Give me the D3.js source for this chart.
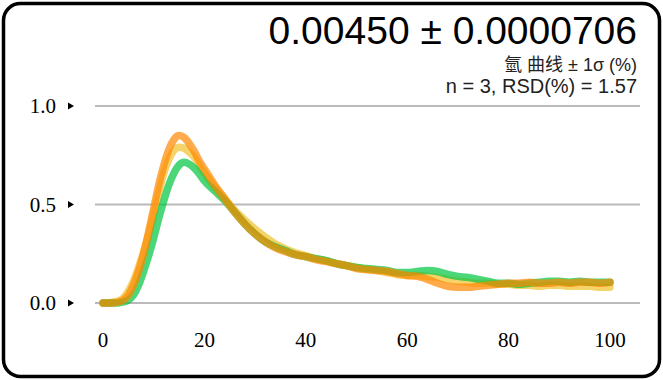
<!DOCTYPE html>
<html>
<head>
<meta charset="utf-8">
<script src="https://cdn.jsdelivr.net/npm/d3@7"></script>
<style>
  body { margin: 0; background: #fff; }
  svg { display: block; }
</style>
</head>
<body>
<div id="chart"></div>
<script>
// time points (shared by the three runs)
var xs = [0,1,2,3,4,5,6,7,8,9,10,11,12,13,14,15,16,17,18,19,20,22,24,26,28,30,32,34,36,38,40,42,44,46,48,50,52,54,56,58,60,62,64,66,68,70,72,74,76,78,80,82,84,86,88,90,92,94,96,98,100];

var yellowRun = [0.00,0.00,0.005,0.01,0.025,0.06,0.11,0.18,0.26,0.35,0.45,0.56,0.66,0.73,0.775,0.79,0.785,0.765,0.74,0.70,0.66,0.59,0.53,0.47,0.42,0.375,0.335,0.30,0.275,0.255,0.24,0.225,0.215,0.20,0.19,0.18,0.17,0.165,0.155,0.145,0.14,0.14,0.135,0.13,0.12,0.11,0.105,0.10,0.10,0.095,0.095,0.09,0.09,0.085,0.09,0.09,0.085,0.085,0.085,0.08,0.08];

var greenRun = [0.00,0.00,0.00,0.00,0.005,0.015,0.04,0.09,0.16,0.24,0.33,0.43,0.52,0.60,0.66,0.70,0.715,0.705,0.685,0.655,0.62,0.57,0.52,0.46,0.40,0.35,0.31,0.285,0.265,0.245,0.235,0.225,0.215,0.20,0.19,0.18,0.175,0.17,0.165,0.155,0.155,0.16,0.165,0.16,0.145,0.135,0.13,0.12,0.11,0.10,0.10,0.095,0.10,0.105,0.11,0.11,0.105,0.11,0.105,0.105,0.105];

var orangeRun = [0.00,0.00,0.00,0.005,0.015,0.04,0.09,0.16,0.25,0.36,0.48,0.60,0.70,0.78,0.83,0.85,0.84,0.81,0.77,0.72,0.68,0.60,0.53,0.46,0.40,0.35,0.31,0.28,0.26,0.245,0.235,0.22,0.21,0.20,0.19,0.175,0.17,0.165,0.16,0.15,0.14,0.135,0.12,0.10,0.085,0.08,0.08,0.085,0.09,0.095,0.10,0.10,0.105,0.10,0.10,0.105,0.10,0.105,0.105,0.10,0.105];

var xTicks = [0,20,40,60,80,100];
var yTicks = [0,0.5,1.0];

var titleText = "0.00450 ± 0.0000706";
var subText1 = "氫 曲线 ± 1σ (%)";
var subText2 = "n = 3, RSD(%) = 1.57";

var svgWidth = 663;
var svgHeight = 380;

var svg = d3.select("#chart")
  .append("svg")
  .attr("width", svgWidth)
  .attr("height", svgHeight);

// card border
svg.append("rect")
  .attr("x", 3.5)
  .attr("y", 3.5)
  .attr("width", 656)
  .attr("height", 373)
  .attr("rx", 17)
  .attr("fill", "#fff")
  .attr("stroke", "#000")
  .attr("stroke-width", 3.5);

var xScale = d3.scaleLinear().domain([0, 100]).range([103, 610]);
var yScale = d3.scaleLinear().domain([0, 1]).range([303, 106]);

// grid lines
svg.append("g").selectAll("line")
  .data(yTicks)
  .enter()
  .append("line")
  .attr("x1", 95)
  .attr("x2", 640)
  .attr("y1", d => yScale(d))
  .attr("y2", d => yScale(d))
  .attr("stroke", "#bababa")
  .attr("stroke-width", 2);

// little arrow markers next to the y labels
svg.append("g").selectAll("path")
  .data(yTicks)
  .enter()
  .append("path")
  .attr("d", d => {
    var y = yScale(d);
    return `M68,${y - 3.5}L74,${y}L68,${y + 3.5}Z`;
  })
  .attr("fill", "#000");

// tick labels, placed with the scales
var fmtY = d3.format(".1f");

svg.append("g").selectAll("text")
  .data(yTicks)
  .enter()
  .append("text")
  .attr("x", 56)
  .attr("y", d => yScale(d) + 7)
  .attr("text-anchor", "end")
  .attr("font-family", "Liberation Serif")
  .attr("font-size", "21px")
  .attr("fill", "#000")
  .text(d => fmtY(d));

svg.append("g").selectAll("text")
  .data(xTicks)
  .enter()
  .append("text")
  .attr("x", d => xScale(d))
  .attr("y", 347)
  .attr("text-anchor", "middle")
  .attr("font-family", "Liberation Serif")
  .attr("font-size", "21px")
  .attr("fill", "#000")
  .text(d => d);

// the three runs
var line = d3.line()
  .x((d, i) => xScale(xs[i]))
  .y(d => yScale(d))
  .curve(d3.curveMonotoneX);

var runs = [
  { values: yellowRun, color: "rgb(241,192,44)" },
  { values: greenRun, color: "rgb(0,196,65)" },
  { values: orangeRun, color: "rgb(255,136,0)" }
];

runs.forEach(function(r) {
  svg.append("path")
    .attr("d", line(r.values))
    .attr("fill", "none")
    .attr("stroke", r.color)
    .attr("stroke-opacity", 0.7)
    .attr("stroke-width", 7.5)
    .attr("stroke-linecap", "round")
    .attr("stroke-linejoin", "round");
});

// header texts
svg.append("text")
  .attr("x", 637)
  .attr("y", 44)
  .attr("text-anchor", "end")
  .attr("font-family", "Liberation Sans, Arial, sans-serif")
  .attr("font-size", "39px")
  .attr("fill", "#000")
  .text(titleText);

svg.append("text")
  .attr("x", 637)
  .attr("y", 71)
  .attr("text-anchor", "end")
  .attr("font-family", "Liberation Sans, Noto Sans CJK TC, sans-serif")
  .attr("font-size", "18px")
  .attr("fill", "#222")
  .text(subText1);

svg.append("text")
  .attr("x", 637)
  .attr("y", 93)
  .attr("text-anchor", "end")
  .attr("font-family", "Liberation Sans, Arial, sans-serif")
  .attr("font-size", "20px")
  .attr("fill", "#222")
  .text(subText2);
</script>
</body>
</html>
